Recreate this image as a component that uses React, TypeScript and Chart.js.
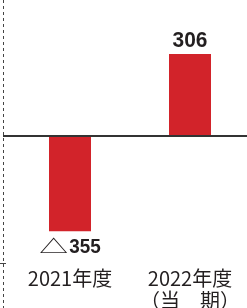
import React, { useEffect, useRef } from "react";
import { Chart, registerables } from "chart.js";

Chart.register(...registerables);

const categories: (string | string[])[] = ["2021年度", ["2022年度", "（当　期）"]];
const values: number[] = [-355, 306];
const valueLabels: string[] = ["△355", "306"];
const titleText = "親会社株主に帰属する当期純利益";

const RED = "#d2232a";
const NUM_FAMILY = "'Liberation Sans Narrow', 'Liberation Sans', Arial, sans-serif";
const SYM_FONT = "24px 'Noto Sans CJK JP', sans-serif";

export default function App() {
  const ref = useRef<HTMLCanvasElement>(null);

  useEffect(() => {
    const canvas = ref.current;
    if (!canvas) return;

    const overlay = {
      id: "overlay",
      beforeDatasetsDraw(chart: any) {
        const ctx = chart.ctx;
        ctx.save();
        ctx.strokeStyle = "#444";
        ctx.lineWidth = 1;
        ctx.setLineDash([3, 3]);
        ctx.beginPath();
        ctx.moveTo(3.5, 0);
        ctx.lineTo(3.5, chart.height);
        ctx.stroke();
        ctx.setLineDash([]);
        ctx.beginPath();
        ctx.moveTo(0, 263.5);
        ctx.lineTo(6, 263.5);
        ctx.stroke();
        ctx.restore();
      },
      afterDatasetsDraw(chart: any) {
        const ctx = chart.ctx;
        const y0 = chart.scales.y.getPixelForValue(0);
        ctx.save();
        ctx.strokeStyle = "#333";
        ctx.lineWidth = 2;
        ctx.beginPath();
        ctx.moveTo(3, y0);
        ctx.lineTo(chart.width, y0);
        ctx.stroke();

        const meta = chart.getDatasetMeta(0);
        meta.data.forEach((bar: any, i: number) => {
          const v = values[i];
          const label = valueLabels[i];
          const x = bar.x;
          let prefix = "";
          let num = label;
          if (label.startsWith("△")) {
            prefix = "△";
            num = label.slice(1);
          }
          const size = v >= 0 ? 22 : 21;
          const sx = v >= 0 ? 0.95 : 0.9;
          const numFont = `bold ${size}px ${NUM_FAMILY}`;
          const symSX = 1.2;
          const symSY = 0.75;
          ctx.font = SYM_FONT;
          const pw = prefix ? ctx.measureText(prefix).width * symSX + 1 : 0;
          ctx.font = numFont;
          const nw = ctx.measureText(num).width * sx;
          const total = pw + nw;
          const startX = x - total / 2;
          const baseY = v >= 0 ? bar.y - 7 : bar.y + 22;
          ctx.textBaseline = "alphabetic";
          ctx.textAlign = "left";
          ctx.fillStyle = "#231f20";
          if (prefix) {
            ctx.save();
            ctx.font = SYM_FONT;
            ctx.translate(startX, baseY);
            ctx.scale(symSX, symSY);
            ctx.fillText(prefix, 0, 0);
            ctx.restore();
          }
          ctx.save();
          ctx.font = numFont;
          ctx.translate(startX + pw, baseY);
          ctx.scale(sx, 1);
          ctx.fillText(num, 0, 0);
          ctx.restore();
        });
        ctx.restore();
      },
    };

    const chart = new Chart(canvas, {
      type: "bar",
      data: {
        labels: categories,
        datasets: [
          {
            data: values,
            backgroundColor: RED,
            borderWidth: 0,
            barPercentage: 0.35,
            categoryPercentage: 1,
          },
        ],
      },
      options: {
        animation: false,
        responsive: false,
        devicePixelRatio: 1,
        layout: { autoPadding: false, padding: { left: 10, right: 0, top: 53, bottom: 0 } },
        plugins: { legend: { display: false }, tooltip: { enabled: false }, title: { display: false } },
        scales: {
          x: {
            grid: { display: false, drawTicks: true, tickLength: 34 },
            border: { display: false },
            ticks: {
              font: { family: "'Noto Sans CJK JP', sans-serif", size: 20, lineHeight: 1.1 },
              color: "#231f20",
              padding: 0,
              maxRotation: 0,
              autoSkip: false,
            },
            afterFit: (s: any) => {
              s.height = 75;
              s.paddingLeft = 0;
              s.paddingRight = 0;
              s.paddingTop = 0;
              s.paddingBottom = 0;
            },
          },
          y: { display: false, min: -362, max: 310 },
        },
      },
      plugins: [overlay],
    });
    return () => chart.destroy();
  }, []);

  return (
    <div style={{ position: "absolute", left: 0, top: 0, width: 247, height: 308, overflow: "hidden", background: "#fff" }}>
      <div
        style={{
          position: "absolute",
          left: 55,
          width: 183,
          top: -16,
          fontFamily: "'Noto Sans CJK JP', sans-serif",
          fontSize: 12,
          lineHeight: "14px",
          color: "#333",
          textAlign: "center",
          whiteSpace: "nowrap",
        }}
      >
        {titleText}
      </div>
      <canvas ref={ref} width={250} height={308} style={{ display: "block", width: 250, height: 308 }} />
    </div>
  );
}
